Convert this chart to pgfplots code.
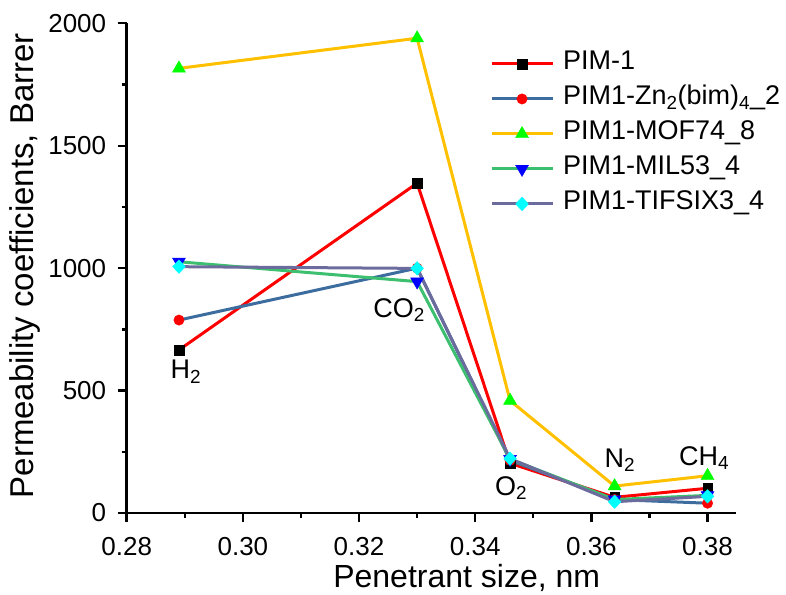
\documentclass[border=0pt]{standalone}
\usepackage{pgfplots}
\pgfplotsset{compat=1.18}
\usepackage{fontspec}
\setmainfont{Liberation Sans}
\definecolor{cZn}{HTML}{3D6D9E}
\definecolor{cMOF}{HTML}{FFC000}
\definecolor{cMIL}{HTML}{3CBF6E}
\definecolor{cTIF}{HTML}{6B6B9D}
\definecolor{mGreen}{HTML}{00FF00}
\definecolor{mCyan}{RGB}{0,255,255}
\begin{document}
\begin{tikzpicture}
\useasboundingbox (-126.7pt,-81pt) rectangle (659.3pt,513pt);
\begin{axis}[
  scale only axis, width=609.3pt, height=489.7pt,
  xmin=0.28, xmax=0.3849, ymin=0, ymax=2000,
  axis x line*=bottom, axis y line*=left,
  axis line style={line width=2.6pt},
  xtick={0.28,0.30,0.32,0.34,0.36,0.38},
  minor xtick={0.29,0.31,0.33,0.35,0.37},
  ytick={0,500,1000,1500,2000},
  minor ytick={250,750,1250,1750},
  tick align=outside,
  major tick length=9pt, minor tick length=5pt,
  every tick/.style={black, line width=2.4pt},
  /pgf/number format/assume math mode=true,
  ticklabel style={font=\fontsize{26}{30}\selectfont},
  xticklabel style={/pgf/number format/fixed, /pgf/number format/fixed zerofill, /pgf/number format/precision=2, anchor=north, yshift=-12pt},
  yticklabel style={/pgf/number format/1000 sep={}, anchor=east, xshift=-8pt},
  xlabel={Penetrant size, nm},
  ylabel={Permeability coefficients, Barrer},
  xlabel style={font=\fontsize{32}{38}\selectfont, at={(axis description cs:0.558,-0.133)}, anchor=center},
  ylabel style={font=\fontsize{33}{38}\selectfont, at={(axis description cs:-0.167,0.505)}, anchor=center},
  legend style={at={(0.596,0.948)}, anchor=north west, draw=none, fill=none,
    font=\fontsize{27}{32}\selectfont, inner sep=0pt, row sep=5pt,
    nodes={inner sep=1pt, text height=20pt, text depth=8pt, font=\fontsize{27}{32}\selectfont}},
  legend cell align=left,
  every axis plot/.append style={line width=3pt,
    /pgfplots/legend image code/.code={\draw[mark repeat=2,mark phase=2] plot coordinates {(0pt,0pt)(30.5pt,0pt)(61pt,0pt)}; \path (69pt,0pt);}},
]
\addplot[red, mark=square*, mark size=4.8pt, mark options={black, fill=black, solid, line width=0.4pt}]
  coordinates {(0.289,666) (0.330,1347) (0.346,203) (0.364,64) (0.380,101)};
\addlegendentry{PIM-1}
\addplot[cZn, mark=*, mark size=5.2pt, mark options={red, fill=red, solid, line width=0.4pt}]
  coordinates {(0.289,788) (0.330,1000) (0.346,215) (0.364,55) (0.380,40)};
\addlegendentry{PIM1-Zn\textsubscript{2}(bim)\textsubscript{4}\_2}
\addplot[cMOF, mark=triangle*, mark size=7.5pt, mark options={mGreen, fill=mGreen, solid, line width=0.4pt}]
  coordinates {(0.289,1816) (0.330,1939) (0.346,459) (0.364,110) (0.380,152)};
\addlegendentry{PIM1-MOF74\_8}
\addplot[cMIL, mark=triangle*, mark size=7.5pt, mark options={blue, fill=blue, rotate=180, solid, line width=0.4pt}]
  coordinates {(0.289,1026) (0.330,945) (0.346,220) (0.364,55) (0.380,72)};
\addlegendentry{PIM1-MIL53\_4}
\addplot[cTIF, mark=diamond*, mark size=6.8pt, mark options={mCyan, fill=mCyan, solid, line width=0.4pt, xscale=1.25}]
  coordinates {(0.289,1006) (0.330,999) (0.346,222) (0.364,46) (0.380,68)};
\addlegendentry{PIM1-TIFSIX3\_4}
\node[font=\fontsize{27}{32}\selectfont] at (axis cs:0.2902,576) {H\textsubscript{2}};
\node[font=\fontsize{27}{32}\selectfont] at (axis cs:0.3269,829) {CO\textsubscript{2}};
\node[font=\fontsize{27}{32}\selectfont] at (axis cs:0.3462,102) {O\textsubscript{2}};
\node[font=\fontsize{27}{32}\selectfont] at (axis cs:0.3649,216) {N\textsubscript{2}};
\node[font=\fontsize{27}{32}\selectfont] at (axis cs:0.3794,225) {CH\textsubscript{4}};
\end{axis}
\end{tikzpicture}
\end{document}
